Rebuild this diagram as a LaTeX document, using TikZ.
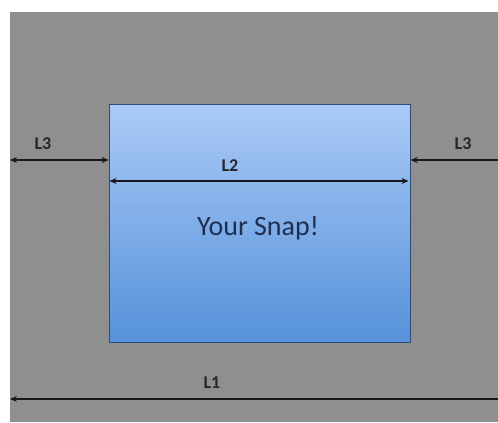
\documentclass[tikz,border=0pt]{standalone}
\usepackage{fontspec}
\setmainfont{Carlito}
\usetikzlibrary{arrows.meta}
\definecolor{bggray}{HTML}{8F8F8F}
\definecolor{boxtop}{HTML}{AACAF6}
\definecolor{boxbot}{HTML}{5591DA}
\definecolor{boxedge}{HTML}{2E4A78}
\definecolor{snaptext}{HTML}{1E2F52}
\tikzset{
  dim/.style={line width=1.6pt, draw=black!90},
  tip/.style={-{Stealth[length=7pt,width=6pt]}},
  bothtips/.style={{Stealth[length=7pt,width=6pt]}-{Stealth[length=7pt,width=6pt]}},
  lbl/.style={font=\fontsize{18}{18}\selectfont\bfseries, text=black!85, inner sep=0pt},
}
\begin{document}
\begin{tikzpicture}[x=1pt,y=-1pt]
\useasboundingbox (0,0) rectangle (498,423);
\fill[white] (0,0) rectangle (498,423);
\fill[bggray] (10,12) rectangle (498,422);
% box
\node[draw=boxedge, line width=1.2pt, top color=boxtop, bottom color=boxbot,
      minimum width=301pt, minimum height=238pt, inner sep=0pt, anchor=north west]
      (box) at (108.5,104) {};
\node[text=snaptext, font=\fontsize{28}{28}\selectfont, inner sep=0pt] (snap) at (258,228) {Your Snap!};
% coordinates for free ends
\coordinate (l3lend) at (10,160);
\coordinate (l3rend) at (500,160);
\coordinate (l1lend) at (10,399);
\coordinate (l1rend) at (500,399);
\coordinate (l2l) at (109.5,181);
\coordinate (l2r) at (408.5,181);
% arrows
\draw[dim, bothtips] (l3lend) -- (l3lend -| box.west);
\draw[dim, tip] (l3rend) -- (l3rend -| box.east);
\draw[dim, bothtips] (l2l) -- (l2r);
\draw[dim, tip] (l1rend) -- (l1lend);
% labels
\node[lbl] (L3a) at (43,144) {L3};
\node[lbl] (L3b) at (463,144) {L3};
\node[lbl] (L2) at (230,166) {L2};
\node[lbl] (L1) at (212,383) {L1};
\end{tikzpicture}
\end{document}
